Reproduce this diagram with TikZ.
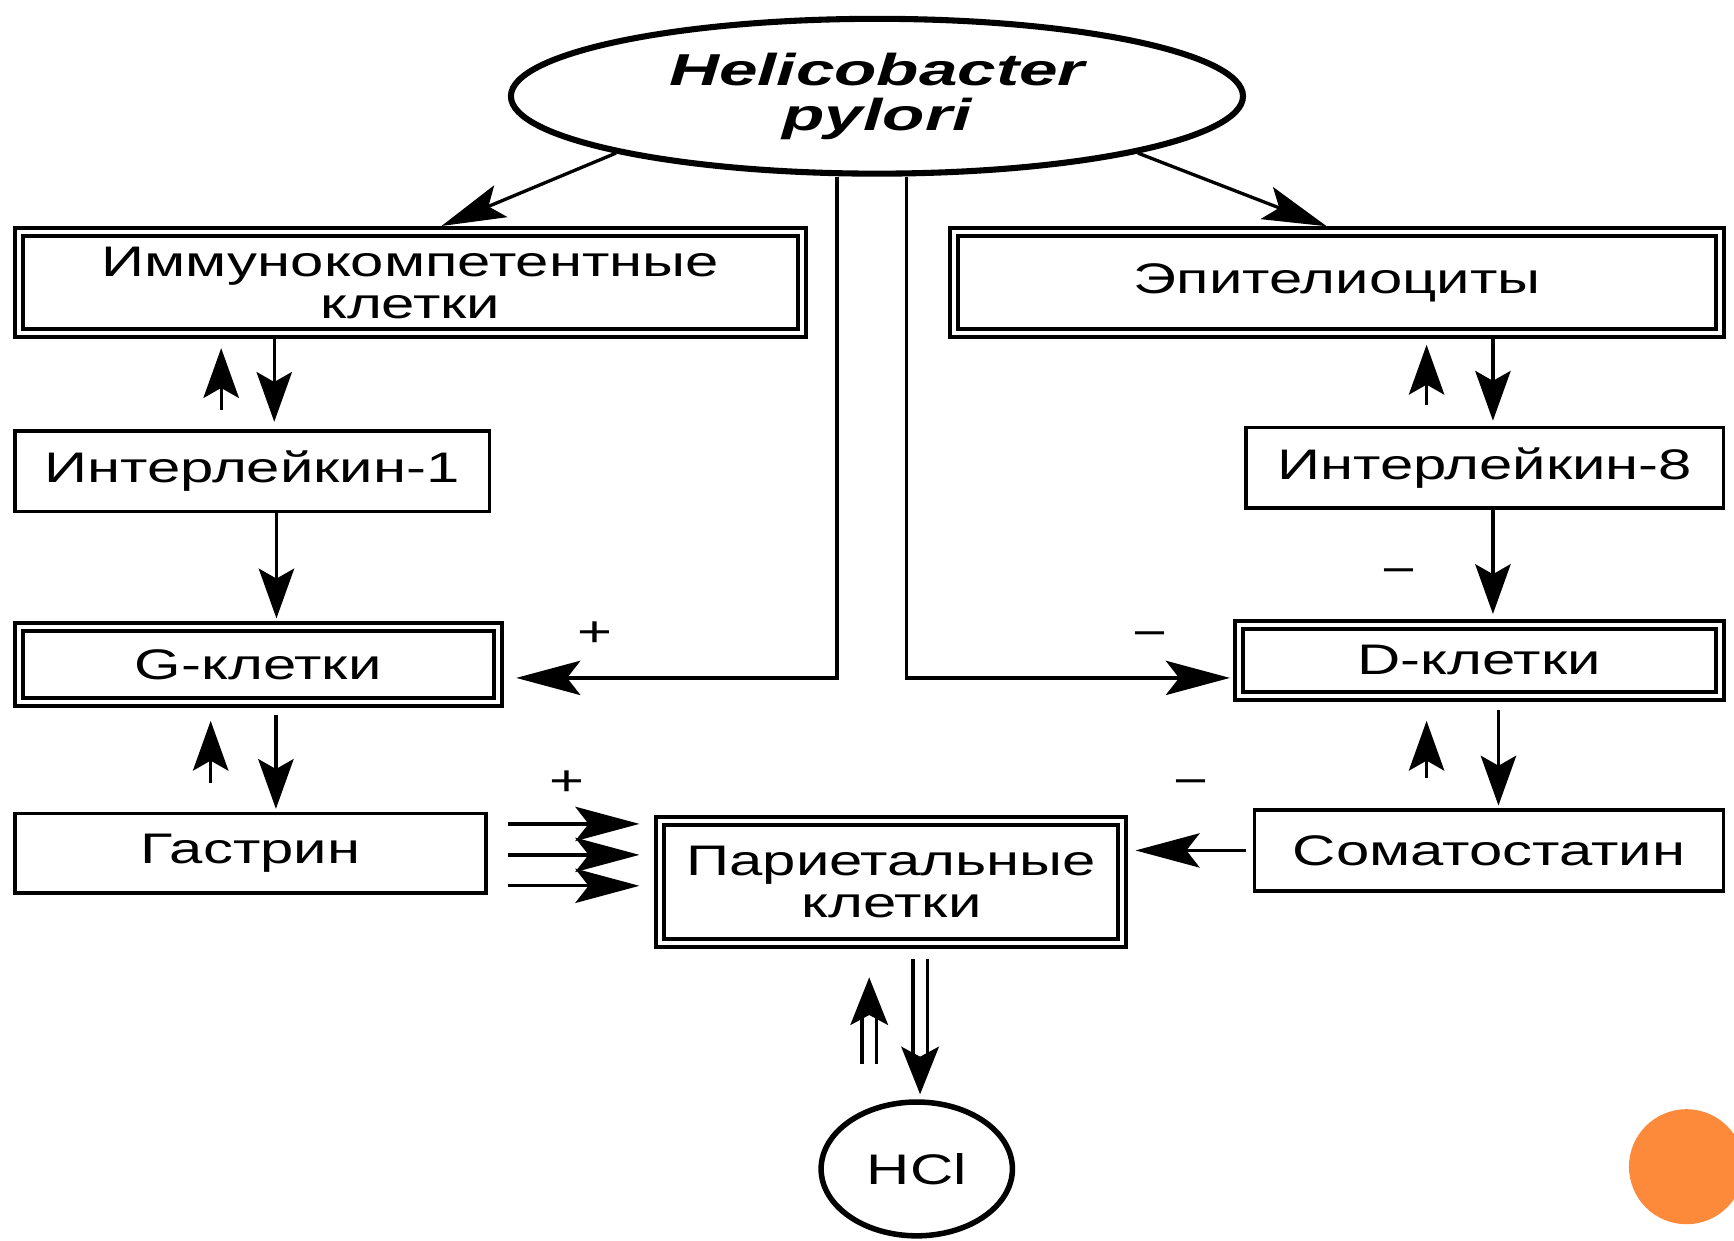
\documentclass[tikz,border=0pt]{standalone}
\usepackage{fontspec}
\setmainfont[FakeStretch=1.4]{Liberation Sans}
\newfontfamily\hpfont[FakeStretch=1.55]{Liberation Sans}
\usetikzlibrary{shapes.geometric,arrows.meta}
\definecolor{dotorange}{RGB}{253,138,58}
\newcommand{\lbl}{\fontsize{11}{10.8}\selectfont}
\tikzset{
  cell/.style={rectangle,draw,line width=0.32mm,inner sep=0pt,align=center,font=\lbl},
  dcell/.style={cell,line width=0.36mm,double,double distance=0.36mm},
  varr/.style={line width=0.3mm,-{Stealth[length=4.5mm,width=3.2mm,inset=0.9mm]}},
  harr/.style={line width=0.3mm,-{Stealth[length=5.8mm,width=3.1mm,inset=1.2mm]}},
  dblarr/.style={line width=0.3mm,double,double distance=1mm,-{Stealth[length=4.3mm,width=3.4mm,inset=0.9mm]}},
  sign/.style={inner sep=0pt,font=\lbl},
}
\begin{document}
\begin{tikzpicture}[x=1mm,y=1mm]
 \useasboundingbox (0,0) rectangle (156.8,-112.2);

 \node at (79.3,-8.7) [ellipse,draw,line width=0.55mm,inner sep=0pt,minimum width=66.2mm,minimum height=14mm,align=center,
   font={\hpfont\bfseries\itshape\fontsize{11.5}{11.6}\selectfont}] (hp) {Helicobacter\\pylori};

 \node at (37.1,-25.55) [dcell,minimum width=70.8mm,minimum height=9.1mm] (imm) {Иммунокомпетентные\\клетки};
 \node at (120.9,-25.55) [dcell,minimum width=69.2mm,minimum height=9.1mm] (epi) {Эпителиоциты};
 \node at (22.8,-42.6) [cell,minimum width=42.9mm,minimum height=7.3mm] (il1) {Интерлейкин-1};
 \node at (134.25,-42.3) [cell,minimum width=43.2mm,minimum height=7.3mm] (il8) {Интерлейкин-8};
 \node at (23.35,-60.1) [dcell,minimum width=43.3mm,minimum height=6.8mm] (gk) {G-клетки};
 \node at (133.75,-59.7) [dcell,minimum width=43.5mm,minimum height=6.4mm] (dk) {D-клетки};
 \node at (22.65,-77.15) [cell,minimum width=42.6mm,minimum height=7.2mm] (gas) {Гастрин};
 \node at (134.65,-76.9) [cell,minimum width=42.4mm,minimum height=7.3mm] (som) {Соматостатин};
 \node at (80.6,-79.75) [dcell,minimum width=41.8mm,minimum height=11.1mm] (par) {Париетальные\\клетки};
 \node at (82.9,-105.7) [ellipse,draw,line width=0.5mm,inner sep=0pt,minimum width=17.3mm,minimum height=12.1mm,font=\lbl] (hcl) {HCl};

 \node at (53.8,-57.3) [sign] (plusg) {+};
 \node at (104,-57.8) [sign] (minusd) {−};
 \node at (126.5,-52.1) [sign] (minusil) {−};
 \node at (51.3,-70.8) [sign] (plusgas) {+};
 \node at (107.7,-71.2) [sign] (minussom) {−};

 % from the bacterium
 \draw[harr,shorten >=1mm] (hp.south west) -- ([xshift=1.9mm]imm.north);
 \draw[harr,shorten >=1mm] (hp.south east) -- (epi.north);
 \coordinate (hpl) at ([xshift=-3.6mm]hp.south);
 \coordinate (hpr) at ([xshift=2.7mm]hp.south);
 \coordinate (gin) at ([yshift=-1.2mm]gk.east);
 \coordinate (din) at ([yshift=-1.6mm]dk.west);
 \draw[harr,shorten >=1.5mm] (hpl) |- (gin);
 \draw[harr,shorten >=0.6mm] (hpr) |- (din);

 % left column
 \coordinate (a1) at ([xshift=-2.8mm]il1.north);
 \coordinate (a2) at ([xshift=2mm]il1.north);
 \draw[varr,shorten <=1.75mm,shorten >=1.2mm] (a1) -- (a1 |- imm.south);
 \draw[varr,shorten >=0.65mm] (a2 |- imm.south) -- (a2);
 \coordinate (b1) at ([xshift=2.2mm]il1.south);
 \draw[varr,shorten >=0.6mm] (b1) -- (b1 |- gk.north);
 \coordinate (c1) at ([xshift=-3.6mm]gas.north);
 \coordinate (c2) at ([xshift=2.3mm]gas.north);
 \draw[varr,shorten <=2.55mm,shorten >=1.5mm] (c1) -- (c1 |- gk.south);
 \draw[varr,shorten <=1mm,shorten >=0.25mm] (c2 |- gk.south) -- (c2);
 \foreach \dy [count=\i] in {2.65,-0.15,-2.95}{
   \coordinate (g\i) at ([yshift=\dy mm]gas.east);
   \draw[harr,shorten <=1.85mm,shorten >=1.7mm] (g\i) -- (g\i -| par.west);
 }

 % right column
 \coordinate (e1) at ([xshift=-5.25mm]il8.north);
 \coordinate (e2) at ([xshift=0.75mm]il8.north);
 \draw[varr,shorten <=1.85mm,shorten >=0.9mm] (e1) -- (e1 |- epi.south);
 \draw[varr,shorten >=0.45mm] (e2 |- epi.south) -- (e2);
 \coordinate (f1) at ([xshift=0.75mm]il8.south);
 \draw[varr,shorten >=0.8mm] (f1) -- (f1 |- dk.north);
 \coordinate (h1) at ([xshift=-5.65mm]som.north);
 \coordinate (h2) at ([xshift=0.85mm]som.north);
 \draw[varr,shorten <=2.75mm,shorten >=2.1mm] (h1) -- (h1 |- dk.south);
 \draw[varr,shorten <=1.1mm,shorten >=0.25mm] (h2 |- dk.south) -- (h2);
 \draw[harr,shorten <=0.6mm,shorten >=1mm] (som.west) -- (som.west -| par.east);

 % acid
 \coordinate (k1) at ([xshift=-2mm]par.south);
 \coordinate (k2) at ([xshift=2.6mm]par.south);
 \draw[dblarr,shorten <=3.15mm,shorten >=2.9mm] (k1 |- hcl.north) -- (k1);
 \draw[dblarr,shorten <=1.2mm,shorten >=0.45mm] (k2) -- (k2 |- hcl.north);

 \begin{scope}
  \clip (0,0) rectangle (156.8,-112.2);
  \fill[dotorange] (152.5,-105.5) circle (5.2);
 \end{scope}
\end{tikzpicture}
\end{document}
